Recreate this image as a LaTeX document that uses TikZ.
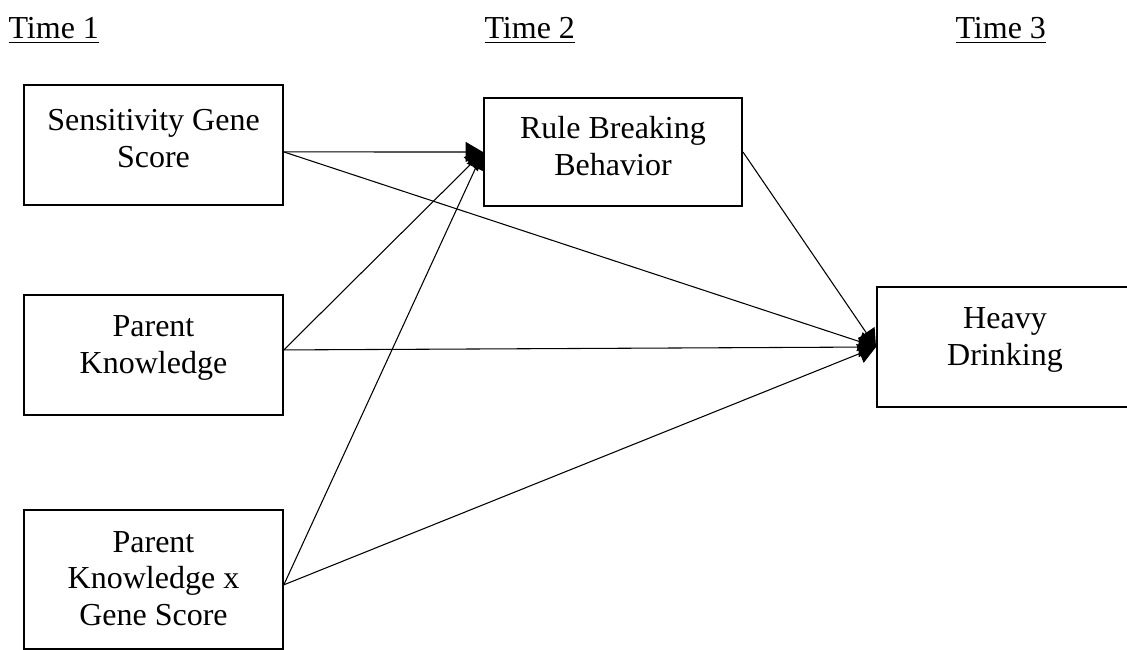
\documentclass[tikz,border=0pt]{standalone}
\usepackage{fontspec}
\setmainfont{Liberation Serif}
\usetikzlibrary{arrows.meta}

\tikzset{
  varbox/.style={draw, line width=0.75pt, minimum width=97pt, minimum height=45pt,
    align=center, text depth=8pt, inner sep=0pt},
  effect/.style={-{Triangle[length=6.5pt,width=7.5pt]}, line width=0.4pt},
  timelabel/.style={anchor=base west, inner sep=0pt}
}

\begin{document}
\begin{tikzpicture}[x=0.375pt, y=-0.375pt, font=\fontsize{12}{13.8}\selectfont]
  \useasboundingbox (0,0) rectangle (1127,650);
  \node[timelabel] (t1) at (8,38) {\underline{Time 1}};
  \node[timelabel] (t2) at (484,38) {\underline{Time 2}};
  \node[timelabel] (t3) at (955,38) {\underline{Time 3}};

  \node[varbox, text depth=5pt] (gene) at (153.5,145) {Sensitivity Gene\\Score};
  \node[varbox] (know) at (153.5,355) {Parent\\Knowledge};
  \node[varbox, minimum height=52pt, text depth=0.8pt] (inter) at (153.5,579.5) {Parent\\Knowledge x\\Gene Score};
  \node[varbox, minimum width=96.75pt, minimum height=40.5pt, text depth=4.5pt] (rule) at (613,152) {Rule Breaking\\Behavior};
  \node[varbox, minimum width=96pt] (drink) at (1005,347) {Heavy\\Drinking};

  \draw[effect] ([yshift=-2.6pt]gene.east) -- (rule.west);
  \draw[effect] ([yshift=-2.6pt]gene.east) -- (drink.west);
  \draw[effect] ([yshift=1.9pt]know.east) -- (rule.west);
  \draw[effect] ([yshift=1.9pt]know.east) -- (drink.west);
  \draw[effect] ([yshift=-2pt]inter.east) -- (rule.west);
  \draw[effect] ([yshift=-2pt]inter.east) -- (drink.west);
  \draw[effect] (rule.east) -- (drink.west);
\end{tikzpicture}
\end{document}
